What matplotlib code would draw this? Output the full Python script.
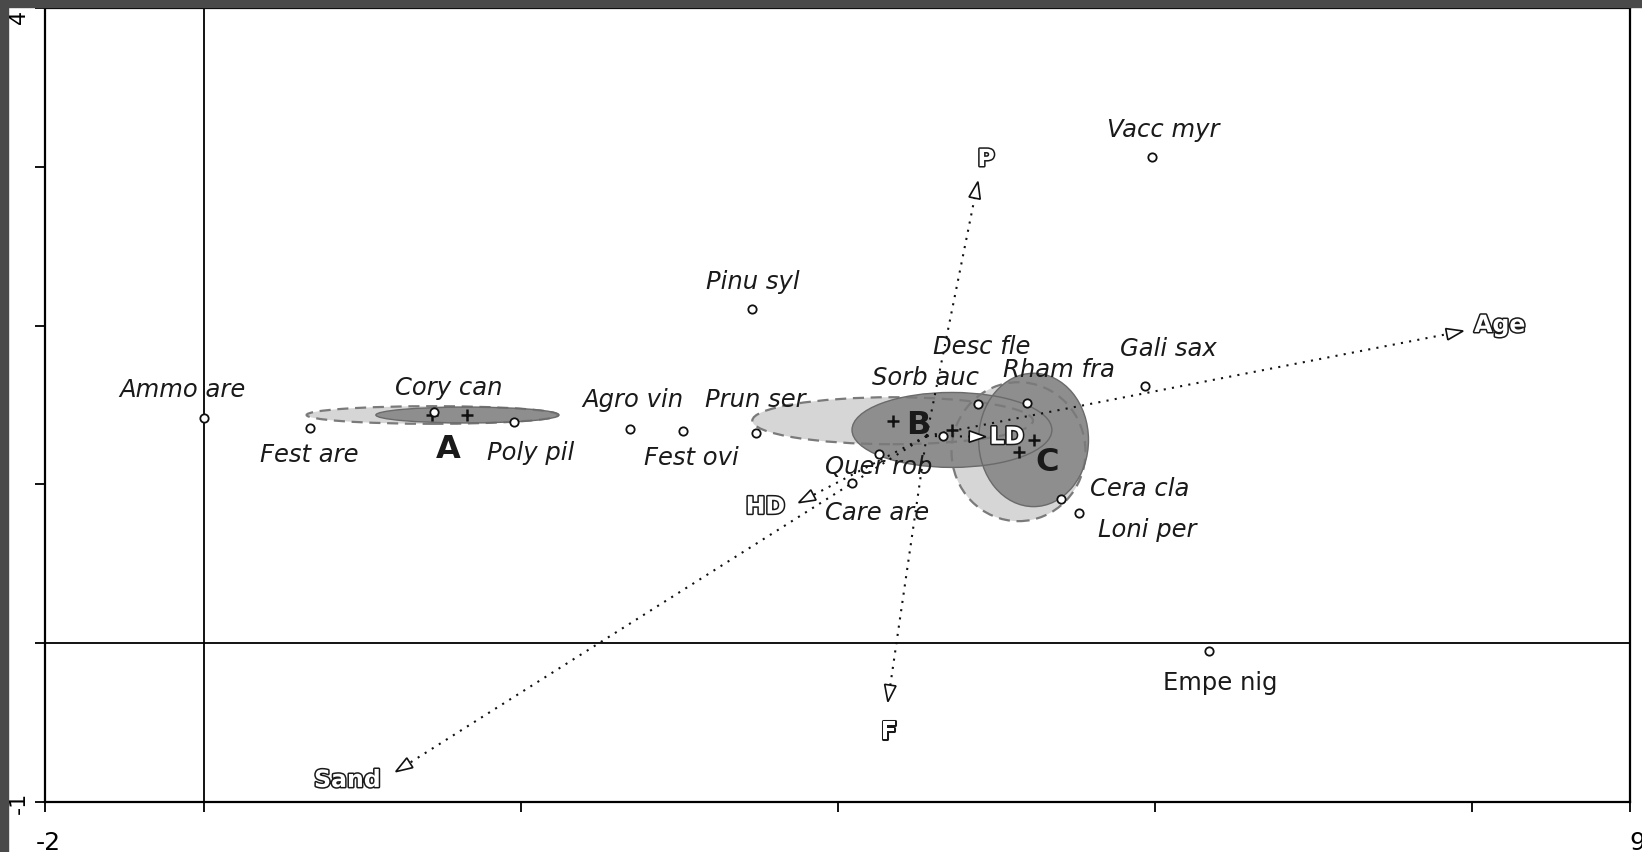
import matplotlib
matplotlib.use("Agg")
import matplotlib.pyplot as plt
import matplotlib.patheffects as pe
from matplotlib.patches import Ellipse, Polygon, Rectangle
import numpy as np

# species scores
species = ["Ammo are", "Fest are", "Cory can", "Poly pil", "Agro vin", "Fest ovi",
           "Pinu syl", "Prun ser", "Sorb auc", "Desc fle", "Rham fra", "Gali sax",
           "Quer rob", "Care are", "Cera cla", "Loni per", "Vacc myr", "Empe nig"]
sp_x = [0.0, 0.673, 1.452, 1.959, 2.693, 3.023, 3.459, 3.483, 4.665, 4.884,
        5.197, 5.941, 4.260, 4.091, 5.411, 5.525, 5.987, 6.344]
sp_y = [1.419, 1.353, 1.458, 1.395, 1.346, 1.334, 2.105, 1.322, 1.305, 1.506,
        1.515, 1.617, 1.191, 1.011, 0.906, 0.822, 3.064, -0.047]

# site groups: two centroids each with an ellipse (w, h)
groups = ["A", "B", "C"]
light_cx = [1.444, 4.348, 5.142]
light_cy = [1.437, 1.401, 1.206]
light_w = [1.587, 1.771, 0.845]
light_h = [0.111, 0.296, 0.875]
dark_cx = [1.665, 4.722, 5.237]
dark_cy = [1.437, 1.343, 1.280]
dark_w = [1.155, 1.261, 0.693]
dark_h = [0.100, 0.472, 0.840]

# environmental variables (arrow tips)
env = ["Age", "P", "F", "Sand", "HD", "LD"]
env_x = [7.947, 4.886, 4.318, 1.213, 3.755, 4.936]
env_y = [1.966, 2.906, -0.368, -0.809, 0.885, 1.300]
env_origin = (4.562, 1.305)

# where the labels sit
sp_label_xy = {
    "Ammo are": (-0.134, 1.597), "Fest are": (0.667, 1.188),
    "Cory can": (1.549, 1.605), "Poly pil": (2.064, 1.196),
    "Agro vin": (2.706, 1.532), "Fest ovi": (3.081, 1.169),
    "Pinu syl": (3.466, 2.276), "Prun ser": (3.484, 1.532),
    "Sorb auc": (4.554, 1.668), "Desc fle": (4.911, 1.867),
    "Rham fra": (5.394, 1.720), "Gali sax": (6.086, 1.855),
    "Quer rob": (4.260, 1.111), "Care are": (4.249, 0.822),
    "Cera cla": (5.908, 0.971), "Loni per": (5.954, 0.713),
    "Vacc myr": (6.053, 3.232), "Empe nig": (6.412, -0.251),
}
group_label_xy = {"A": (1.543, 1.217), "B": (4.511, 1.374), "C": (5.324, 1.135)}
env_label_xy = {"Age": (8.178, 2.004), "P": (4.938, 3.049), "F": (4.323, -0.557),
                "Sand": (0.908, -0.861), "HD": (3.545, 0.860), "LD": (5.068, 1.300)}

W, H = 1642, 852
fig = plt.figure(figsize=(W / 100, H / 100), dpi=100)
fig.patch.set_facecolor("white")
ax = fig.add_axes([45 / W, 50 / H, 1585 / W, 794 / H])
ax.set_xlim(-1, 9)
ax.set_ylim(-1, 4)

# dark frame along top and left edges
fig.patches.append(Rectangle((0, 1 - 7 / H), 1, 7 / H, transform=fig.transFigure,
                             color="#4a4a4a", zorder=0))
fig.patches.append(Rectangle((0, 0), 8 / W, 1, transform=fig.transFigure,
                             color="#4a4a4a", zorder=0))

for s in ax.spines.values():
    s.set_linewidth(1.6)
ax.set_xticks([-1, 0, 2, 4, 6, 8, 9])
ax.set_yticks([-1, 0, 1, 2, 3, 4])
ax.set_xticklabels([])
ax.set_yticklabels([])
ax.tick_params(direction="out", length=7, width=1.3)

ax.axvline(0, color="k", lw=1.3, zorder=1)
ax.axhline(0, color="k", lw=1.3, zorder=1)

# ellipses: fills first, outlines on top
for i in range(len(groups)):
    ax.add_patch(Ellipse((light_cx[i], light_cy[i]), light_w[i], light_h[i],
                         facecolor="#d6d6d6", edgecolor="none", zorder=2))
for i in range(len(groups)):
    ax.add_patch(Ellipse((dark_cx[i], dark_cy[i]), dark_w[i], dark_h[i],
                         facecolor="#8e8e8e", edgecolor="none", zorder=3))
for i in range(len(groups)):
    ax.add_patch(Ellipse((light_cx[i], light_cy[i]), light_w[i], light_h[i],
                         facecolor="none", edgecolor="#7a7a7a", lw=1.6,
                         linestyle=(0, (5, 3)), zorder=4))
    ax.add_patch(Ellipse((dark_cx[i], dark_cy[i]), dark_w[i], dark_h[i],
                         facecolor="none", edgecolor="#6a6a6a", lw=1.0, zorder=4))

ax.plot(light_cx + dark_cx, light_cy + dark_cy, "+", color="#111111",
        ms=8, mew=1.8, zorder=6)

for g in groups:
    gx, gy = group_label_xy[g]
    ax.text(gx, gy, g, fontsize=23, fontweight="bold", color="#1a1a1a",
            ha="center", va="center", zorder=7)

# environmental arrows: dotted shaft, hollow triangular head
ox, oy = env_origin
head_len, head_half = 0.105, 0.036
outline = [pe.Stroke(linewidth=2.2, foreground="#1a1a1a"), pe.Normal()]
for name, tx, ty in zip(env, env_x, env_y):
    d = np.array([tx - ox, ty - oy])
    u = d / np.hypot(*d)
    n = np.array([-u[1], u[0]])
    base = np.array([tx, ty]) - head_len * u
    ax.plot([ox, base[0]], [oy, base[1]], color="#111111", lw=1.5,
            linestyle=(0, (1, 3)), zorder=5)
    tri = [(tx, ty), tuple(base + head_half * n), tuple(base - head_half * n)]
    ax.add_patch(Polygon(tri, closed=True, facecolor="white", edgecolor="#111111",
                         lw=1.2, zorder=6))
    lx, ly = env_label_xy[name]
    ax.text(lx, ly, name, fontsize=17, fontweight="bold", color="white",
            ha="center", va="center", path_effects=outline, zorder=8)

# species points and names
ax.plot(sp_x, sp_y, "o", mfc="white", mec="#111111", ms=6, mew=1.3, zorder=7)
for name in species:
    lx, ly = sp_label_xy[name]
    style = "normal" if name == "Empe nig" else "italic"
    ax.text(lx, ly, name, fontsize=17.5, fontstyle=style, color="#1a1a1a",
            ha="center", va="center", zorder=8)

# axis extent labels
fig.text(48 / W, 1 - 843 / H, "-2", fontsize=18, ha="center", va="center")
fig.text(1637 / W, 1 - 843 / H, "9", fontsize=18, ha="center", va="center")
fig.text(19 / W, 1 - 17 / H, "4", fontsize=16, rotation=90, ha="center", va="center")
fig.text(19 / W, 1 - 803 / H, "-1", fontsize=16, rotation=90, ha="center", va="center")

fig.savefig("out.png", dpi=100, facecolor="white")
